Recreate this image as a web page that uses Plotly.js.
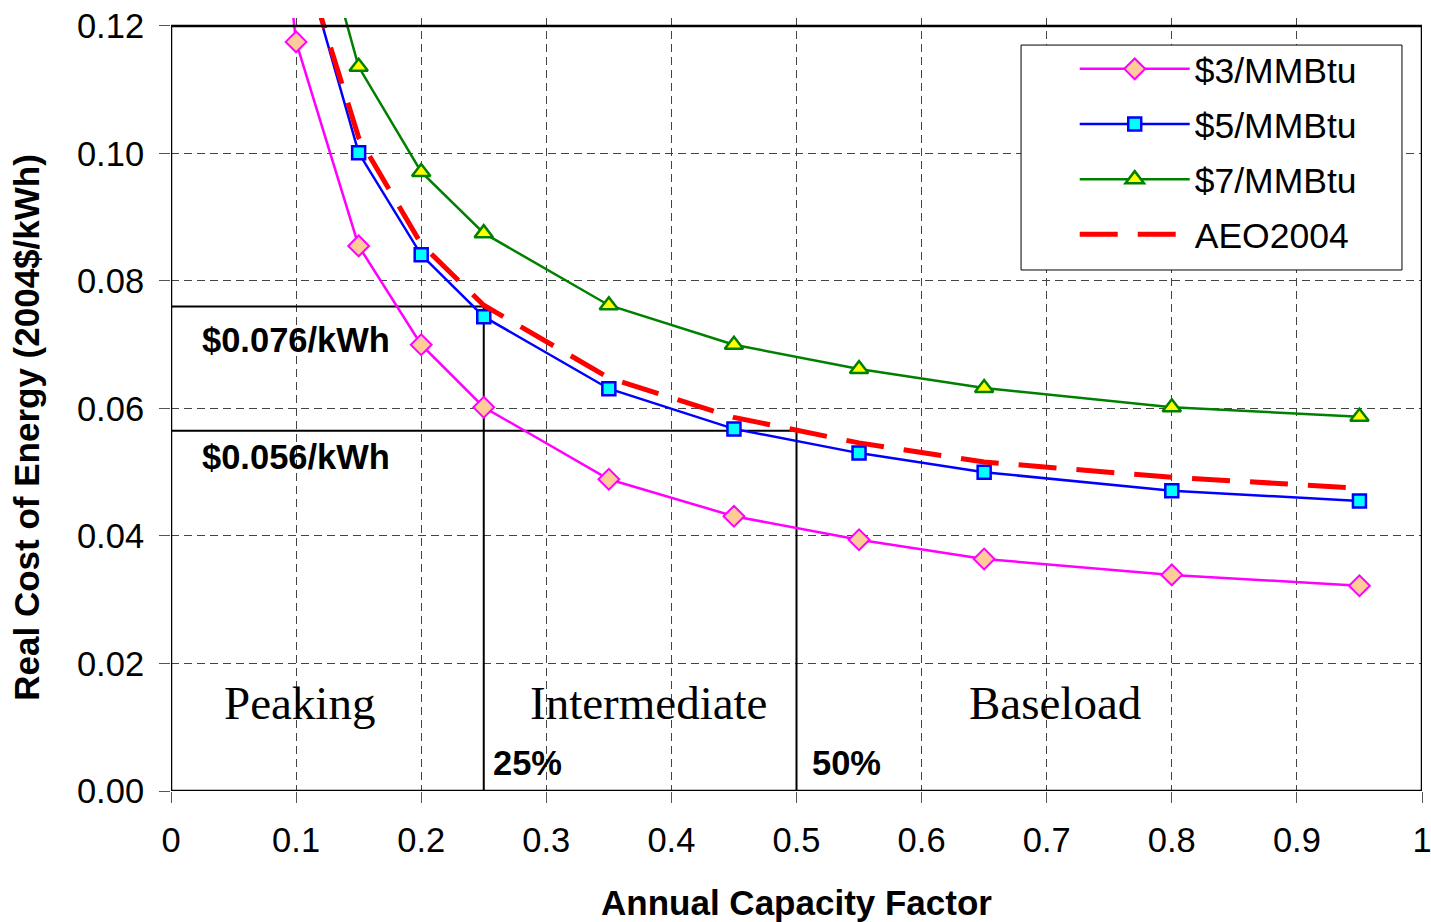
<!DOCTYPE html>
<html>
<head>
<meta charset="utf-8">
<script src="https://cdn.plot.ly/plotly-3.0.1.min.js"></script>
<style>html,body{margin:0;padding:0;background:#fff;}#chart{width:1431px;height:922px;}</style>
</head>
<body>
<div id="chart"></div>
<script>
// Data
const capacityFactor = [0.05, 0.1, 0.15, 0.2, 0.25, 0.35, 0.45, 0.55, 0.65, 0.8, 0.95];
const gas3 = [0.205, 0.1175, 0.0855, 0.0700, 0.0602, 0.0489, 0.0431, 0.0394, 0.0364, 0.0339, 0.0322];
const gas5 = [null, 0.1346, 0.1001, 0.0841, 0.0744, 0.0631, 0.0568, 0.0530, 0.0500, 0.0471, 0.0455];
const gas7 = [null, 0.149, 0.1136, 0.0971, 0.0875, 0.0762, 0.0700, 0.0662, 0.0632, 0.0602, 0.0587];
const aeo2004 = [null, 0.134, 0.1025, 0.0858, 0.0762, 0.0648, 0.0586, 0.0546, 0.0516, 0.0492, 0.0475];
const seriesNames = ['$3/MMBtu', '$5/MMBtu', '$7/MMBtu', 'AEO2004'];
// Cost thresholds marked on the chart
const thresholdCF = [0.25, 0.5];
const thresholdCost = [0.076, 0.0565];
const thresholdLabels = ['$0.076/kWh', '$0.056/kWh'];
const cfLabels = ['25%', '50%'];
const regionNames = ['Peaking', 'Intermediate', 'Baseload'];
const regionCenters = [0.103, 0.382, 0.7066];
const yTicks = [0, 0.02, 0.04, 0.06, 0.08, 0.10, 0.12];
const xTicks = [0, 0.1, 0.2, 0.3, 0.4, 0.5, 0.6, 0.7, 0.8, 0.9, 1];

const F = 'Liberation Sans, Arial, sans-serif';
const FS = 34.5;
const traces = [];
const refTrace = (i) => ({
  x: [0, thresholdCF[i], thresholdCF[i]],
  y: [thresholdCost[i], thresholdCost[i], 0],
  mode: 'lines', line: {color: '#000', width: 2}, showlegend: false, hoverinfo: 'skip'
});
traces.push(refTrace(0), refTrace(1));
traces.push({x: capacityFactor, y: gas3, name: seriesNames[0], legendgroup: 'a', mode: 'lines+markers',
  line: {color: '#FF00FF', width: 2.5}, marker: {symbol: 'diamond', size: 16, color: '#FFCC99', line: {color: '#FF00FF', width: 2}}});
traces.push({x: capacityFactor, y: gas5, name: seriesNames[1], legendgroup: 'b', mode: 'lines+markers',
  line: {color: '#0000FF', width: 2.5}, marker: {symbol: 'square', size: 13, color: '#00FFFF', line: {color: '#0000FF', width: 2.5}}});
traces.push({x: capacityFactor, y: gas7, name: seriesNames[2], legendgroup: 'c', mode: 'lines+markers',
  line: {color: '#008000', width: 2.5}, marker: {symbol: 'triangle-up', size: 16, color: '#FFFF00', line: {color: '#008000', width: 2.5}}});
traces.push({x: capacityFactor, y: aeo2004, name: seriesNames[3], legendgroup: 'd', mode: 'lines',
  line: {color: '#FF0000', width: 5, dash: '38px,20px'}});

const annotations = [];
const pctOffsets = [0.0058, 0.011];
thresholdLabels.forEach((t, i) => annotations.push({x: 0.0232, y: i === 0 ? 0.0707 : 0.0524, xref: 'x', yref: 'y', text: '<b>' + t + '</b>',
  showarrow: false, xanchor: 'left', yanchor: 'middle', font: {family: F, size: FS, color: '#000'}}));
cfLabels.forEach((t, i) => annotations.push({x: thresholdCF[i] + pctOffsets[i], y: 0.0044, xref: 'x', yref: 'y', text: '<b>' + t + '</b>',
  showarrow: false, xanchor: 'left', yanchor: 'middle', font: {family: F, size: FS, color: '#000'}}));
regionNames.forEach((t, i) => annotations.push({x: regionCenters[i], y: 0.0138, xref: 'x', yref: 'y', text: t,
  showarrow: false, xanchor: 'center', yanchor: 'middle', font: {family: 'Liberation Serif, Times New Roman, serif', size: 47, color: '#000'}}));
annotations.push({xref: 'paper', yref: 'paper', x: -0.1151, y: 0.47, text: '<b>Real Cost of Energy (2004$/kWh)</b>',
  textangle: -90, showarrow: false, xanchor: 'center', yanchor: 'middle', font: {family: F, size: 35, color: '#000'}});

const layout = {
  width: 1431, height: 922,
  margin: {l: 171, r: 9, t: 18, b: 131},
  paper_bgcolor: '#fff', plot_bgcolor: '#fff',
  showlegend: true,
  legend: {x: 0.7224, y: 0.9725, xanchor: 'left', yanchor: 'top', bgcolor: 'rgba(0,0,0,0)', borderwidth: 0,
    font: {family: F, size: 35.5, color: '#000'}, itemwidth: 110, tracegroupgap: 6},
  xaxis: {range: [0, 1], tickvals: xTicks, ticktext: xTicks.map(String), showgrid: true, gridcolor: '#444', griddash: '8px,5px', gridwidth: 1,
    zeroline: false, showline: false, ticks: 'outside', ticklen: 11, tickcolor: '#555', tickwidth: 1,
    ticklabelstandoff: 8, ticklabeloverflow: 'allow', tickfont: {family: F, size: FS, color: '#000'},
    title: {text: '<b>Annual Capacity Factor</b>', font: {family: F, size: 35, color: '#000'}, standoff: 35}},
  yaxis: {range: [0, 0.12125], tickvals: yTicks, tickformat: '.2f', showgrid: true, gridcolor: '#444', griddash: '8px,5px', gridwidth: 1,
    zeroline: false, showline: false, ticks: 'outside', ticklen: 11, tickcolor: '#555', tickwidth: 1,
    ticklabelstandoff: 8, tickfont: {family: F, size: FS, color: '#000'}},
  shapes: [
    {type: 'rect', xref: 'x', yref: 'y', x0: 0, x1: 1, y0: 0, y1: 0.12, line: {color: '#000', width: 2.5}, fillcolor: 'rgba(0,0,0,0)', layer: 'above'},
    {type: 'rect', xref: 'paper', yref: 'paper', x0: 0.6795, x1: 0.984, y0: 0.674, y1: 0.965, line: {color: '#000', width: 1}, fillcolor: '#fff', layer: 'above'}
  ],
  annotations: annotations
};
Plotly.newPlot('chart', traces, layout, {displayModeBar: false, staticPlot: true});
</script>
</body>
</html>
